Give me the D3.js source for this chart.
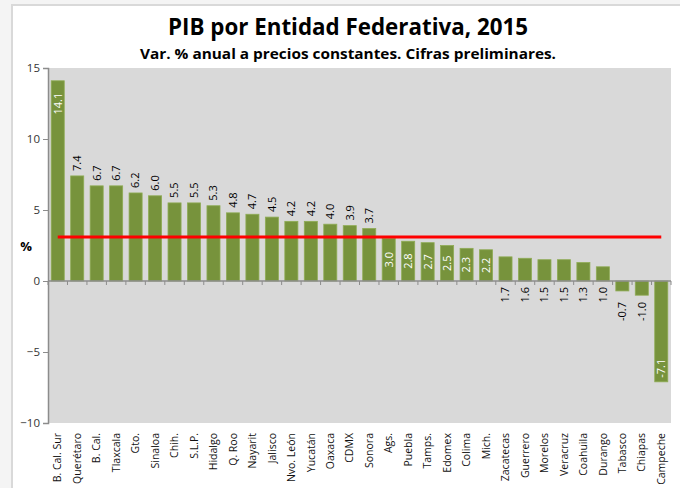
<!DOCTYPE html>
<html>
<head>
<meta charset="utf-8">
<script src="https://d3js.org/d3.v7.min.js"></script>
<style>
  body { margin: 0; background: #f4f4f4; }
  svg { display: block; }
</style>
</head>
<body>
<script>
var states = ["B. Cal. Sur","Querétaro","B. Cal.","Tlaxcala","Gto.","Sinaloa","Chih.","S.L.P.",
  "Hidalgo","Q. Roo","Nayarit","Jalisco","Nvo. León","Yucatán","Oaxaca","CDMX","Sonora",
  "Ags.","Puebla","Tamps.","Edomex","Colima","Mich.","Zacatecas","Guerrero","Morelos",
  "Veracruz","Coahuila","Durango","Tabasco","Chiapas","Campeche"];
var values = [14.1,7.4,6.7,6.7,6.2,6.0,5.5,5.5,5.3,4.8,4.7,4.5,4.2,4.2,4.0,3.9,3.7,
  3.0,2.8,2.7,2.5,2.3,2.2,1.7,1.6,1.5,1.5,1.3,1.0,-0.7,-1.0,-7.1];
var nacional = 3.1;
var yTicks = [-10,-5,0,5,10,15];

var width = 680, height = 488;
var font = "'Open Sans', 'Noto Sans', sans-serif";

var svg = d3.select("body").append("svg")
    .attr("width", width)
    .attr("height", height);

// chart box
svg.append("rect")
    .attr("x", 12).attr("y", 5)
    .attr("width", 680).attr("height", 500)
    .attr("fill", "#fff")
    .attr("stroke", "#d9d9d9")
    .attr("stroke-width", 2);

svg.append("text")
    .attr("x", 348).attr("y", 35)
    .attr("text-anchor", "middle")
    .attr("font-family", font)
    .attr("font-weight", "bold")
    .attr("font-size", 23)
    .attr("textLength", 360)
    .attr("lengthAdjust", "spacingAndGlyphs")
    .text("PIB por Entidad Federativa, 2015");

svg.append("text")
    .attr("x", 348).attr("y", 59)
    .attr("text-anchor", "middle")
    .attr("font-family", font)
    .attr("font-weight", "bold")
    .attr("font-size", 14)
    .attr("textLength", 416)
    .attr("lengthAdjust", "spacingAndGlyphs")
    .text("Var. % anual a precios constantes. Cifras preliminares.");

var x = d3.scaleBand()
    .domain(states)
    .range([48, 671])
    .paddingInner(0.33)
    .paddingOuter(0.165);

var y = d3.scaleLinear()
    .domain([-10, 15])
    .range([423, 68]);

var band = (671 - 48) / states.length;

// plot area
svg.append("rect")
    .attr("x", 48).attr("y", y(15))
    .attr("width", 671 - 48).attr("height", y(-10) - y(15))
    .attr("fill", "#d9d9d9");

// bars
svg.selectAll("rect.bar")
    .data(values)
    .enter().append("rect")
    .attr("class", "bar")
    .attr("x", (d, i) => x(states[i]))
    .attr("width", x.bandwidth())
    .attr("y", d => y(Math.max(0, d)))
    .attr("height", d => Math.abs(y(d) - y(0)))
    .attr("fill", "#77933c")
    .attr("stroke", "#8fac55")
    .attr("stroke-width", 0.8);

// y axis
var yAxis = svg.append("g")
    .attr("transform", "translate(48,0)")
    .call(d3.axisLeft(y).tickValues(yTicks).tickSize(5).tickPadding(3));
yAxis.select(".domain").attr("stroke", "#8c8c8c").attr("stroke-width", 1.5);
yAxis.selectAll(".tick line").attr("stroke", "#8c8c8c");
yAxis.selectAll("text")
    .attr("font-family", font)
    .attr("font-size", 11.5)
    .attr("fill", "#333");

// x axis line at zero with ticks between categories
svg.append("line")
    .attr("x1", 48).attr("x2", 671)
    .attr("y1", y(0)).attr("y2", y(0))
    .attr("stroke", "#8c8c8c")
    .attr("stroke-width", 1.5);

svg.selectAll("line.xtick")
    .data(d3.range(states.length + 1))
    .enter().append("line")
    .attr("class", "xtick")
    .attr("x1", i => 48 + i * band)
    .attr("x2", i => 48 + i * band)
    .attr("y1", y(0))
    .attr("y2", y(0) + 4)
    .attr("stroke", "#8c8c8c");

// category labels
svg.selectAll("text.cat")
    .data(states)
    .enter().append("text")
    .attr("class", "cat")
    .attr("transform", d => "translate(" + (x(d) + x.bandwidth() / 2) + "," + (y(-10) + 10) + ") rotate(-90)")
    .attr("text-anchor", "end")
    .attr("dy", "0.35em")
    .attr("font-family", font)
    .attr("font-size", 10.5)
    .attr("fill", "#111")
    .text(d => d);

// value labels (text runs bottom to top)
function labelPos(v) {
  if (v > 10) return { y: y(v) + 12, anchor: "end", color: "#fff" };
  if (v < -5) return { y: y(v) - 4, anchor: "start", color: "#fff" };
  if (v >= 3.5) return { y: y(v) - 5, anchor: "start", color: "#000" };
  if (v >= 2) return { y: (y(v) + y(0)) / 2, anchor: "middle", color: "#fff" };
  if (v > 0) return { y: y(0) + 6, anchor: "end", color: "#000" };
  return { y: y(0) + 21, anchor: "end", color: "#000" };
}

svg.selectAll("text.val")
    .data(values)
    .enter().append("text")
    .attr("class", "val")
    .attr("transform", (d, i) => "translate(" + (x(states[i]) + x.bandwidth() / 2) + "," + labelPos(d).y + ") rotate(-90)")
    .attr("text-anchor", d => labelPos(d).anchor)
    .attr("dy", "0.35em")
    .attr("font-family", font)
    .attr("font-size", 11)
    .attr("fill", d => labelPos(d).color)
    .text(d => d.toFixed(1));

// national reference line
svg.append("line")
    .attr("x1", x(states[0]) + x.bandwidth() / 2)
    .attr("x2", x(states[states.length - 1]) + x.bandwidth() / 2)
    .attr("y1", y(nacional)).attr("y2", y(nacional))
    .attr("stroke", "#ff0000")
    .attr("stroke-width", 3);

svg.append("text")
    .attr("x", 26).attr("y", 251)
    .attr("text-anchor", "middle")
    .attr("font-family", font)
    .attr("font-weight", "bold")
    .attr("font-size", 13)
    .text("%");
</script>
</body>
</html>
